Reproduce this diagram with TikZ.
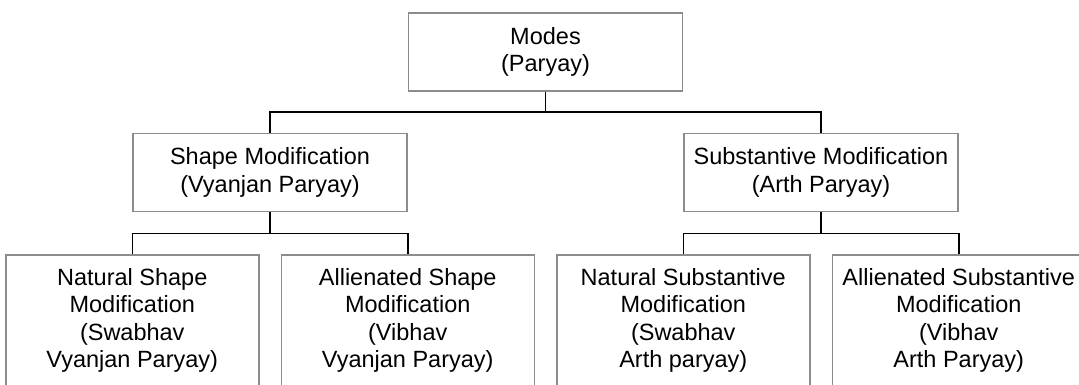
\documentclass[tikz,border=0pt]{standalone}
\usepackage{fontspec}
\setmainfont{Liberation Sans}
\usetikzlibrary{positioning}

\begin{document}
\begin{tikzpicture}[node distance=41pt,
	box/.style={draw=black!45, line width=1.5pt, align=center, inner sep=0pt, font=\fontsize{23.5}{27.5}\selectfont},
	topbox/.style={box, minimum width=274pt, minimum height=78pt},
	leafbox/.style={box, minimum width=253pt, inner ysep=13pt, text depth=14pt},
	link/.style={line width=1.5pt}]
  			\clip (0,0) rectangle (1079pt,-385pt);
  			\node[topbox] (modes) at (545.5pt,-52pt) {Modes\\(Paryay)};
  			\node[topbox, below left=41pt and 0pt of modes]  (shape) {Shape Modification\\(Vyanjan Paryay)};
			\node[topbox, below right=41pt and 0pt of modes] (subst) {Substantive Modification\\(Arth Paryay)};
  			\node[leafbox, below=42pt of shape.south west]   (natshape) {Natural Shape\\Modification\\(Swabhav\\Vyanjan Paryay)};
  			\node[leafbox, below=42pt of shape.south east]   (allshape) {Allienated Shape\\Modification\\(Vibhav\\Vyanjan Paryay)};
  			\node[leafbox, below=42pt of subst.south west]   (natsubst) {Natural Substantive\\Modification\\(Swabhav\\Arth paryay)};
  			\node[leafbox, below=42pt of subst.south east]   (allsubst) {Allienated Substantive\\Modification\\(Vibhav\\Arth Paryay)};
  
  			\draw[link] (modes.south) -- ++(0,-20.5pt) -| (shape.north);
			\draw[link] (modes.south) -- ++(0,-20.5pt) -| (subst.north);
			\draw[link] (shape.south) -- ++(0,-21pt) -| (natshape.north);
			\draw[link] (shape.south) -- ++(0,-21pt) -| (allshape.north);
			\draw[link] (subst.south) -- ++(0,-21pt) -| (natsubst.north);
			\draw[link] (subst.south) -- ++(0,-21pt) -| (allsubst.north);
  			
		\end{tikzpicture}
\end{document}
